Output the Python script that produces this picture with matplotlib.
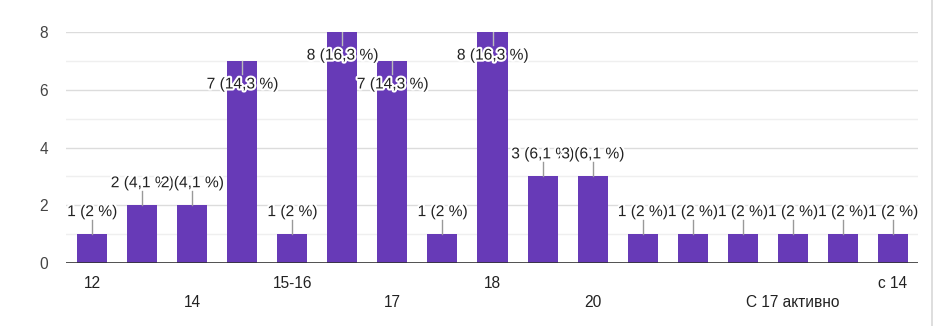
import numpy as np
import matplotlib.pyplot as plt
import matplotlib.patheffects as pe

plt.rcParams['font.family'] = ['Liberation Sans', 'DejaVu Sans']

# answers as shown on the x axis (unlabelled categories left blank)
categories = ['12', '', '14', '', '15-16', '', '17', '', '18', '', '20',
              '', '', '', 'С 17 активно', '', 'с 14']
counts = [1, 2, 2, 7, 1, 8, 7, 1, 8, 3, 3, 1, 1, 1, 1, 1, 1]
y_ticks = [0, 2, 4, 6, 8]

total = sum(counts)
x = np.arange(len(counts))

fig = plt.figure(figsize=(9.36, 3.26), dpi=100)
ax = fig.add_axes([66/936, 63/326, (918-66)/936, (263-32)/326])

# grid: darker on even values, lighter on odd ones
for v in range(1, 9):
    ax.axhline(v, color='#dcdcdc' if v % 2 == 0 else '#efefef', lw=1, zorder=0)

ax.bar(x, counts, width=0.6, color='#673ab7', zorder=2)
ax.axhline(0, color='#333333', lw=1.2, zorder=3)

halo = [pe.withStroke(linewidth=3, foreground='white')]
for i, c in enumerate(counts):
    pct = f'{100 * c / total:.1f}'.replace('.', ',')
    if pct.endswith(',0'):
        pct = pct[:-2]
    label = f'{c} ({pct} %)'
    if c >= 6:
        ax.plot([i, i], [c, c - 0.45], color='#bbbbbb', lw=1, zorder=4)
        ty = c - 0.8
    else:
        ax.plot([i, i], [c, c + 0.5], color='#999999', lw=1, zorder=4)
        ty = c + 0.78
    ax.text(i, ty, label, ha='center', va='center', fontsize=11.2,
            color='#222222', path_effects=halo, zorder=5 + i)

ax.set_xlim(-0.52, 16.5)
ax.set_ylim(0, 8)
ax.set_yticks(y_ticks)
ax.set_yticklabels([str(t) for t in y_ticks], fontsize=11.2, color='#444444')

tick_labels = []
for i, lab in enumerate(categories):
    tick_labels.append('\n' + lab if (i // 2) % 2 == 1 else lab)
ax.set_xticks(x)
ax.set_xticklabels(tick_labels, fontsize=11.2, color='#222222', linespacing=1.38)

ax.tick_params(length=0)
ax.tick_params(axis='y', pad=13)
ax.tick_params(axis='x', pad=9)
for s in ax.spines.values():
    s.set_visible(False)

# thin border on the right edge of the screenshot
fig.add_artist(plt.Line2D([932/936, 932/936], [0, 1], color='#d8d8d8', lw=1.2))

fig.savefig('out.png', dpi=100)
